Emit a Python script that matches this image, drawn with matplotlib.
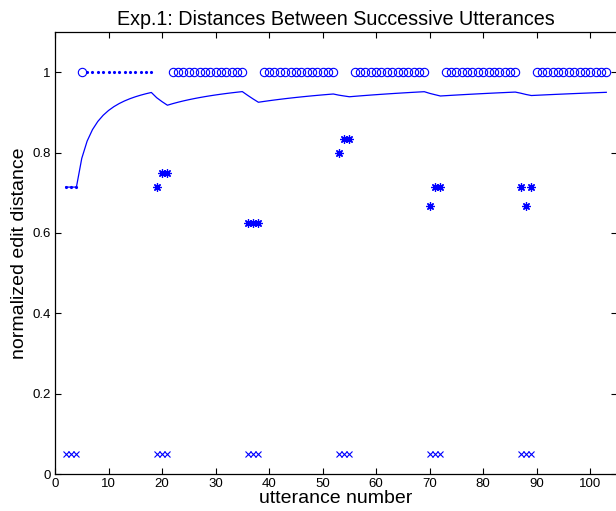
import numpy as np
import matplotlib
matplotlib.use("Agg")
import matplotlib.pyplot as plt

plt.rcParams['font.family'] = ['Liberation Sans', 'DejaVu Sans']

# ---- data ----
start_x = [2, 3, 4]
start_y = [0.714, 0.714, 0.714]
circle_x = [5,
            22, 23, 24, 25, 26, 27, 28, 29, 30, 31, 32, 33, 34, 35,
            39, 40, 41, 42, 43, 44, 45, 46, 47, 48, 49, 50, 51, 52,
            56, 57, 58, 59, 60, 61, 62, 63, 64, 65, 66, 67, 68, 69,
            73, 74, 75, 76, 77, 78, 79, 80, 81, 82, 83, 84, 85, 86,
            90, 91, 92, 93, 94, 95, 96, 97, 98, 99, 100, 101, 102, 103]
dot_x = [6, 7, 8, 9, 10, 11, 12, 13, 14, 15, 16, 17, 18]
star_x = [19, 20, 21, 36, 37, 38, 53, 54, 55, 70, 71, 72, 87, 88, 89]
star_y = [0.714, 0.75, 0.75, 0.625, 0.625, 0.625, 0.8, 0.833, 0.833,
          0.667, 0.714, 0.714, 0.714, 0.667, 0.714]
cross_x = [2, 3, 4, 19, 20, 21, 36, 37, 38, 53, 54, 55, 70, 71, 72, 87, 88, 89]
cross_y = [0.05] * 18

# running mean of all distances
pairs = sorted(list(zip(start_x, start_y)) + [(x, 1.0) for x in circle_x]
               + [(x, 1.0) for x in dot_x] + list(zip(star_x, star_y)))
all_x = np.array([p[0] for p in pairs])
all_y = np.array([p[1] for p in pairs])
run_mean = np.cumsum(all_y) / np.arange(1, len(all_y) + 1)

fig = plt.figure(figsize=(6.16, 5.11), dpi=100)
ax = fig.add_axes([55/616, 37/511, 562/616, 442/511])
blue = (0, 0, 1)

ax.plot(all_x, run_mean, '-', color=blue, lw=0.9)
ax.plot(start_x, start_y, '.', color=blue, ms=2.5)
ax.plot(dot_x, [1.0]*len(dot_x), '.', color=blue, ms=2.5)
ax.plot(circle_x, [1.0]*len(circle_x), 'o', color=blue, mfc='none', ms=6, mew=0.8)
ax.plot(star_x, star_y, ls='none', marker=(8, 2, 0), color=blue, ms=6, mew=0.9)
ax.plot(cross_x, cross_y, 'x', color=blue, ms=4, mew=0.8)

ax.set_xlim(0, 105)
ax.set_ylim(0, 1.1)
ax.set_xticks([0, 10, 20, 30, 40, 50, 60, 70, 80, 90, 100])
ax.set_yticks([0, 0.2, 0.4, 0.6, 0.8, 1])
ax.set_yticklabels(['0', '0.2', '0.4', '0.6', '0.8', '1'])
ax.tick_params(direction='in', top=True, right=True, length=4, width=0.8,
               labelsize=9.5, pad=3)
for s in ax.spines.values():
    s.set_linewidth(0.9)

ax.set_title('Exp.1: Distances Between Successive Utterances', fontsize=14.2, pad=5)
ax.set_xlabel('utterance number', fontsize=14, labelpad=0)
ax.set_ylabel('normalized edit distance', fontsize=14, labelpad=3)

fig.savefig('out.png', dpi=100)
